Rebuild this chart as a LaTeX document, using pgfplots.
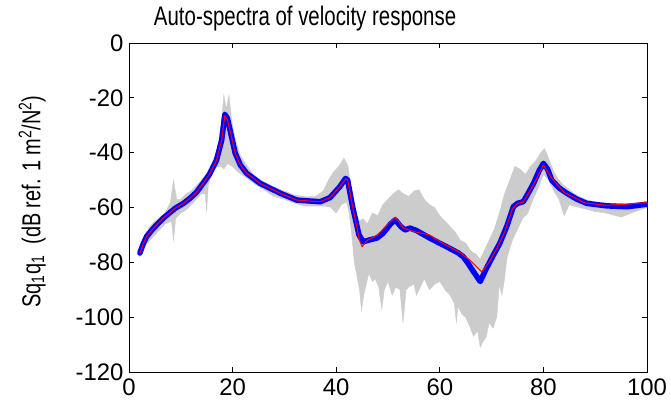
\documentclass[border=0pt]{standalone}
\usepackage{pgfplots}
\pgfplotsset{compat=1.18}
\usepackage{fontspec}
\setmainfont{Liberation Sans}
\definecolor{grayband}{RGB}{204,204,204}
\begin{document}
\begin{tikzpicture}
\begin{axis}[name=ax, scale only axis, width=518bp, height=329bp,
  xmin=0, xmax=100, ymin=-120, ymax=0,
  xtick={0,20,...,100}, ytick={-120,-100,...,0},
  tick align=inside, major tick length=5bp,
  axis line style={line width=0.8bp},
  every tick/.style={line width=0.8bp, black},
  ticklabel style={font=\fontsize{24}{28}\selectfont},
  /pgf/number format/assume math mode=true,
  xticklabel style={yshift=-3bp},
  yticklabel style={xshift=-2bp},
  title={\scalebox{0.76}[1]{Auto-spectra of velocity response}},
  title style={at={(axis description cs:0.34,1.052)}, anchor=base, yshift=-6pt, font=\fontsize{27}{30}\selectfont},
  ylabel={\scalebox{0.77}[1]{Sq\textsubscript{1}q\textsubscript{1}~~(dB ref. 1 m\textsuperscript{2}/N\textsuperscript{2})}},
  ylabel style={at={(axis description cs:-0.187,0.518)}, anchor=center, font=\fontsize{26}{30}\selectfont},
  clip=true,
]
% gray envelope of realizations
\addplot[fill=grayband, draw=grayband, line width=0.4bp] coordinates {
(2,-75) (3,-70) (4,-67) (5,-65) (6,-63.5) (7,-62) (8,-58) (8.6,-50) (9.2,-57) (10,-57) (11,-55) (12,-54) (13,-52) (14,-50) (15,-47.5) (16,-44) (17,-39) (17.8,-30) (18.3,-19) (18.8,-24) (19.3,-19) (19.8,-28) (20.5,-35) (21.5,-41) (22.5,-44) (24,-48) (26,-50.5) (28,-52.5) (30,-54) (32,-55.5) (34,-56) (36,-56) (37.5,-54) (38.5,-50) (39.5,-47) (40.5,-45) (41.5,-42) (42.3,-45) (43,-55) (43.8,-62) (44.5,-65) (45.2,-64) (46,-66) (47,-62) (48,-63) (49,-59) (50,-57) (51,-55) (52,-53.5) (53,-55) (54,-56) (55,-54) (56,-53.5) (57,-57) (58,-59) (59,-60) (60,-63) (61,-65) (62,-67) (63,-69) (64,-72) (65,-73) (66,-76) (67,-77) (67.8,-79) (68.5,-76) (69.5,-72) (70.5,-68) (71.5,-62) (72.5,-55) (73.5,-50) (74.5,-45) (75.5,-46) (76.5,-48) (77.5,-45) (78.5,-43) (79.5,-40) (80.2,-38.5) (81,-42) (82,-47) (83,-50) (84,-52) (86,-55) (88,-57) (90,-58) (93,-58.5) (96,-58.5) (100,-58)
(100,-60) (97,-62) (95,-63.5) (92,-62) (90,-61.5) (87,-60) (85,-59) (84,-63) (83,-57) (82,-54) (81,-50) (80,-48) (79,-53) (78,-57) (77,-62) (76,-64) (75,-68) (74,-72) (73,-78) (72.5,-86) (72,-92) (71.5,-88) (71,-100) (70.3,-104) (69.5,-102) (69,-107) (68.3,-109) (67.8,-111) (67.3,-105) (66.5,-107) (65.8,-103.5) (65,-100) (64.3,-99) (63.5,-96) (63.2,-102) (62.8,-95) (62,-92) (61,-90) (60,-87) (59,-88) (58,-90) (57.5,-88) (57,-86) (56,-90) (55.5,-92) (55,-88) (54,-89) (53.5,-90) (52.9,-102) (52.3,-90) (51.5,-89) (50.8,-92) (50,-87) (49.3,-90) (48.8,-97) (48.2,-89) (47.5,-86) (47,-87) (46.3,-84) (45.8,-88) (45.3,-92) (44.9,-97.5) (44.5,-90) (44,-85) (43.5,-80) (43,-70) (42.5,-62) (42,-58) (41,-59) (40,-62) (39,-60) (38,-59.5) (36,-59.5) (34,-59.5) (32,-58.5) (30,-57) (28,-56) (26,-53.5) (24,-51) (22.5,-49) (21,-47) (20,-45) (19,-44) (18.3,-46) (17.8,-45) (17,-45) (16,-47) (15.3,-52) (15,-61.5) (14.7,-55) (14,-55) (13,-57) (12,-59) (11,-61) (10,-62) (9,-64) (8.6,-72) (8.2,-65) (7,-66) (6,-68) (5,-70) (4,-72) (3,-74) (2,-78)
} -- cycle;
% blue mean
\addplot[color=blue, line width=5.5bp, line join=round, line cap=round] coordinates {
(2.1,-76.6) (2.7,-73.5) (3.4,-70.6) (4.7,-67.6) (6.6,-63.9) (8.9,-60.3) (10.5,-58.5) (11.8,-56.6) (13,-54.5) (14.3,-51.2) (15.5,-48) (16.9,-42.7) (17.9,-35.4) (18.5,-26.0) (19.0,-27.5) (19.5,-31.7) (20.5,-40.2) (21.5,-44.5) (22.7,-47.5) (25.3,-51.2) (29.2,-54.8) (32.4,-57.3) (36.9,-57.9) (38.8,-56.4) (40.7,-52.4) (41.8,-49.4) (42.2,-50) (43.2,-60) (44.4,-70) (45.2,-72.5) (46.5,-71.8) (47.8,-71.2) (49,-69.5) (50.5,-66) (51.4,-64.5) (52.5,-67) (53.3,-68.2) (54.2,-67.5) (55.5,-68.4) (58.1,-71.2) (61.3,-74.3) (63.5,-76.5) (64.5,-77.9) (65.5,-80.5) (66.5,-83.4) (67.8,-87.0) (69.0,-82.2) (70.3,-77.5) (71.6,-73.0) (73,-66.5) (74.2,-59.7) (75,-58.5) (76.1,-57.9) (77,-55) (78.1,-51.2) (79.2,-46.5) (80.0,-43.9) (80.8,-46) (81.6,-50.0) (83,-52.8) (84.5,-54.8) (86.5,-57) (88.4,-58.5) (92.2,-59.4) (96.1,-59.7) (98,-59.3) (99.9,-58.8)
};
% red reference
\addplot[color=red, line width=1bp, line join=round] coordinates {
(2.1,-76.6) (2.7,-73.5) (3.4,-70.6) (4.7,-67.6) (6.6,-63.9) (8.9,-60.3) (10.5,-58.5) (11.8,-56.6) (13,-54.5) (14.3,-51.2) (15.5,-48) (16.9,-42.7) (17.9,-35.4) (18.5,-26.5) (19.0,-28) (19.5,-32) (20.5,-40.2) (21.5,-44.5) (22.7,-47.5) (25.3,-51.2) (29.2,-54.8) (32.4,-57.3) (36.9,-57.9) (38.8,-56.4) (40.7,-52.4) (41.8,-49.6) (42.2,-50) (43.2,-60) (44.5,-72) (45,-74.3) (46,-72) (48,-70) (50,-66) (51.4,-63.5) (53,-67.5) (55,-68.8) (58,-70) (61,-73.5) (64,-76.5) (66,-79.5) (68.1,-83.5) (69.5,-80) (71,-75) (72.5,-69) (74,-60.5) (75,-58.5) (76.1,-58) (78,-52) (80,-44.5) (81.5,-49) (84,-54.5) (88,-58.3) (92,-59.2) (96,-58.8) (99.9,-58.2)
};
\end{axis}
\pgfresetboundingbox
\path ([shift={(-129bp,-45bp)}]ax.south west) rectangle ([shift={(24bp,43bp)}]ax.north east);
\end{tikzpicture}
\end{document}
